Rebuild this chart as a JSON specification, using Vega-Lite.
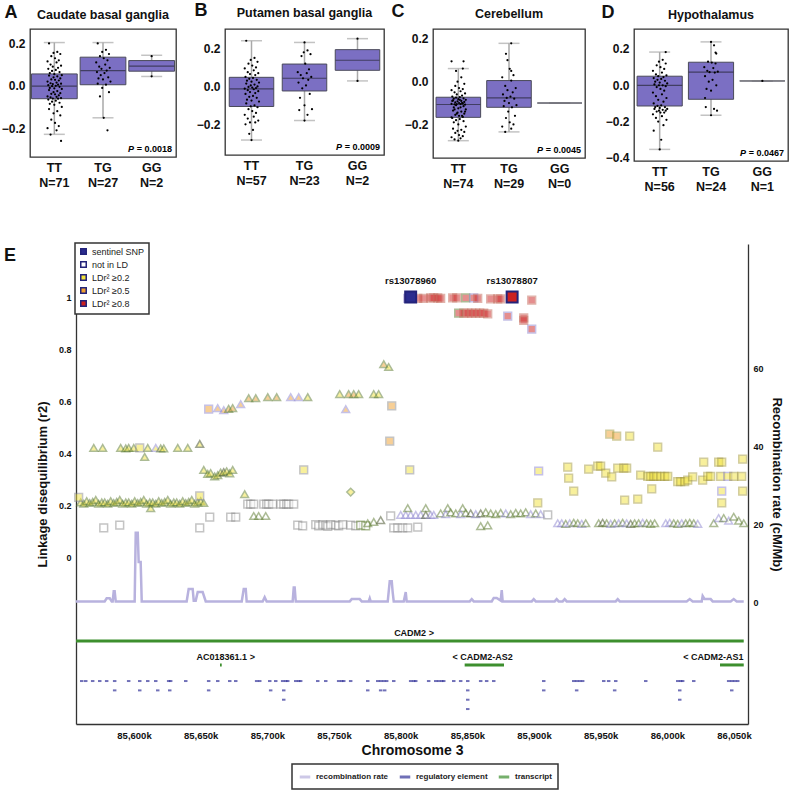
{
"$schema": "https://vega.github.io/schema/vega-lite/v6.json",
"background": "white",
"padding": {"left": 0, "top": 0, "right": 0, "bottom": 0},
"config": {
  "font": "Liberation Sans",
  "view": {"stroke": "#333", "strokeWidth": 1.3},
  "axis": {"grid": false, "ticks": false, "domain": false, "labelFontWeight": "bold", "labelColor": "#111", "titleColor": "#111", "titleFontWeight": "bold"},
  "axisX": {"labelFontSize": 12.5, "labelPadding": 4, "labelLineHeight": 15, "labelAngle": 0},
  "axisY": {"labelFontSize": 12, "labelPadding": 5},
  "title": {"fontSize": 12.5, "fontWeight": "bold", "color": "#111", "offset": -18},
  "legend": {"strokeWidth": 1.5}
},
"datasets": {
  "boxA": [{"g":"TT","lo":-0.229,"q1":-0.061,"m":-0.002,"q3":0.056,"hi":0.204},{"g":"TG","lo":-0.151,"q1":0.005,"m":0.072,"q3":0.135,"hi":0.204},{"g":"GG","lo":0.044,"q1":0.069,"m":0.093,"q3":0.119,"hi":0.144}],
  "boxB": [{"g":"TT","lo":-0.283,"q1":-0.106,"m":-0.013,"q3":0.048,"hi":0.241},{"g":"TG","lo":-0.18,"q1":-0.024,"m":0.043,"q3":0.118,"hi":0.232},{"g":"GG","lo":0.029,"q1":0.085,"m":0.138,"q3":0.194,"hi":0.252}],
  "boxC": [{"g":"TT","lo":-0.276,"q1":-0.167,"m":-0.107,"q3":-0.073,"hi":0.061},{"g":"TG","lo":-0.235,"q1":-0.12,"m":-0.076,"q3":0.005,"hi":0.179},{"g":"GG","lo":-0.1,"q1":-0.1,"m":-0.1,"q3":-0.1,"hi":-0.1}],
  "boxD": [{"g":"TT","lo":-0.353,"q1":-0.114,"m":0.0,"q3":0.05,"hi":0.183},{"g":"TG","lo":-0.165,"q1":-0.077,"m":0.072,"q3":0.127,"hi":0.239},{"g":"GG","lo":0.024,"q1":0.024,"m":0.024,"q3":0.024,"hi":0.024}],
  "pv": [{"q":"A","t":"= 0.0018"},{"q":"B","t":"= 0.0009"},{"q":"C","t":"= 0.0045"},{"q":"D","t":"= 0.0467"}],
  "ptsA": [
    {"g":"TT","v":0.2,"j":-0.7},{"g":"TT","v":0.16,"j":0.4},{"g":"TT","v":0.155,"j":-0.1},{"g":"TT","v":0.15,"j":0.8},{"g":"TT","v":0.14,"j":-0.4},{"g":"TT","v":0.13,"j":0.1},{"g":"TT","v":0.12,"j":0.6},{"g":"TT","v":0.115,"j":-0.9},{"g":"TT","v":0.11,"j":0.3},{"g":"TT","v":0.1,"j":-0.5},
    {"g":"TT","v":0.095,"j":0.9},{"g":"TT","v":0.09,"j":-0.2},{"g":"TT","v":0.085,"j":0.5},{"g":"TT","v":0.08,"j":-0.8},{"g":"TT","v":0.075,"j":0.2},{"g":"TT","v":0.07,"j":-0.3},{"g":"TT","v":0.065,"j":0.7},{"g":"TT","v":0.06,"j":-0.6},{"g":"TT","v":0.055,"j":0.0},{"g":"TT","v":0.05,"j":1.0},
    {"g":"TT","v":0.048,"j":-0.7},{"g":"TT","v":0.045,"j":0.4},{"g":"TT","v":0.04,"j":-0.1},{"g":"TT","v":0.035,"j":0.8},{"g":"TT","v":0.03,"j":-0.4},{"g":"TT","v":0.028,"j":0.1},{"g":"TT","v":0.025,"j":0.6},{"g":"TT","v":0.02,"j":-0.9},{"g":"TT","v":0.015,"j":0.3},{"g":"TT","v":0.012,"j":-0.5},
    {"g":"TT","v":0.01,"j":0.9},{"g":"TT","v":0.008,"j":-0.2},{"g":"TT","v":0.005,"j":0.5},{"g":"TT","v":0.003,"j":-0.8},{"g":"TT","v":0.0,"j":0.2},{"g":"TT","v":-0.002,"j":-0.3},{"g":"TT","v":-0.005,"j":0.7},{"g":"TT","v":-0.01,"j":-0.6},{"g":"TT","v":-0.012,"j":0.0},{"g":"TT","v":-0.015,"j":1.0},
    {"g":"TT","v":-0.02,"j":-0.7},{"g":"TT","v":-0.025,"j":0.4},{"g":"TT","v":-0.03,"j":-0.1},{"g":"TT","v":-0.035,"j":0.8},{"g":"TT","v":-0.038,"j":-0.4},{"g":"TT","v":-0.04,"j":0.1},{"g":"TT","v":-0.045,"j":0.6},{"g":"TT","v":-0.05,"j":-0.9},{"g":"TT","v":-0.052,"j":0.3},{"g":"TT","v":-0.055,"j":-0.5},
    {"g":"TT","v":-0.058,"j":0.9},{"g":"TT","v":-0.06,"j":-0.2},{"g":"TT","v":-0.061,"j":0.5},{"g":"TT","v":-0.065,"j":-0.8},{"g":"TT","v":-0.07,"j":0.2},{"g":"TT","v":-0.075,"j":-0.3},{"g":"TT","v":-0.08,"j":0.7},{"g":"TT","v":-0.085,"j":-0.6},{"g":"TT","v":-0.09,"j":0.0},{"g":"TT","v":-0.1,"j":1.0},
    {"g":"TT","v":-0.11,"j":-0.7},{"g":"TT","v":-0.12,"j":0.4},{"g":"TT","v":-0.13,"j":-0.1},{"g":"TT","v":-0.14,"j":0.8},{"g":"TT","v":-0.16,"j":-0.4},{"g":"TT","v":-0.175,"j":0.1},{"g":"TT","v":-0.19,"j":0.6},{"g":"TT","v":-0.2,"j":-0.9},{"g":"TT","v":-0.21,"j":0.3},{"g":"TT","v":-0.23,"j":-0.5},{"g":"TT","v":-0.26,"j":0.9},
    {"g":"TG","v":0.2,"j":-0.7},{"g":"TG","v":0.17,"j":0.4},{"g":"TG","v":0.16,"j":-0.1},{"g":"TG","v":0.15,"j":0.8},{"g":"TG","v":0.14,"j":-0.4},{"g":"TG","v":0.13,"j":0.1},{"g":"TG","v":0.12,"j":0.6},{"g":"TG","v":0.11,"j":-0.9},{"g":"TG","v":0.1,"j":0.3},{"g":"TG","v":0.09,"j":-0.5},
    {"g":"TG","v":0.085,"j":0.9},{"g":"TG","v":0.08,"j":-0.2},{"g":"TG","v":0.072,"j":0.5},{"g":"TG","v":0.065,"j":-0.8},{"g":"TG","v":0.06,"j":0.2},{"g":"TG","v":0.05,"j":-0.3},{"g":"TG","v":0.04,"j":0.7},{"g":"TG","v":0.035,"j":-0.6},{"g":"TG","v":0.03,"j":0.0},{"g":"TG","v":0.02,"j":1.0},
    {"g":"TG","v":0.01,"j":-0.7},{"g":"TG","v":0.005,"j":0.4},{"g":"TG","v":-0.01,"j":-0.1},{"g":"TG","v":-0.03,"j":0.8},{"g":"TG","v":-0.05,"j":-0.4},{"g":"TG","v":-0.151,"j":0.1},{"g":"TG","v":-0.21,"j":0.6},
    {"g":"GG","v":0.14,"j":0.0},{"g":"GG","v":0.045,"j":0.0}
  ],
  "ptsB": [
    {"g":"TT","v":0.241,"j":-0.7},{"g":"TT","v":0.15,"j":0.4},{"g":"TT","v":0.14,"j":-0.1},{"g":"TT","v":0.13,"j":0.8},{"g":"TT","v":0.12,"j":-0.4},{"g":"TT","v":0.11,"j":0.1},{"g":"TT","v":0.1,"j":0.6},{"g":"TT","v":0.095,"j":-0.9},{"g":"TT","v":0.085,"j":0.3},{"g":"TT","v":0.075,"j":-0.5},
    {"g":"TT","v":0.07,"j":0.9},{"g":"TT","v":0.065,"j":-0.2},{"g":"TT","v":0.06,"j":0.5},{"g":"TT","v":0.05,"j":-0.8},{"g":"TT","v":0.045,"j":0.2},{"g":"TT","v":0.04,"j":-0.3},{"g":"TT","v":0.035,"j":0.7},{"g":"TT","v":0.03,"j":-0.6},{"g":"TT","v":0.025,"j":0.0},{"g":"TT","v":0.02,"j":1.0},
    {"g":"TT","v":0.015,"j":-0.7},{"g":"TT","v":0.01,"j":0.4},{"g":"TT","v":0.005,"j":-0.1},{"g":"TT","v":0.0,"j":0.8},{"g":"TT","v":-0.003,"j":-0.4},{"g":"TT","v":-0.006,"j":0.1},{"g":"TT","v":-0.009,"j":0.6},{"g":"TT","v":-0.012,"j":-0.9},{"g":"TT","v":-0.015,"j":0.3},{"g":"TT","v":-0.02,"j":-0.5},
    {"g":"TT","v":-0.025,"j":0.9},{"g":"TT","v":-0.03,"j":-0.2},{"g":"TT","v":-0.035,"j":0.5},{"g":"TT","v":-0.04,"j":-0.8},{"g":"TT","v":-0.05,"j":0.2},{"g":"TT","v":-0.055,"j":-0.3},{"g":"TT","v":-0.06,"j":0.7},{"g":"TT","v":-0.07,"j":-0.6},{"g":"TT","v":-0.075,"j":0.0},{"g":"TT","v":-0.08,"j":1.0},
    {"g":"TT","v":-0.09,"j":-0.7},{"g":"TT","v":-0.1,"j":0.4},{"g":"TT","v":-0.105,"j":-0.1},{"g":"TT","v":-0.11,"j":0.8},{"g":"TT","v":-0.12,"j":-0.4},{"g":"TT","v":-0.13,"j":0.1},{"g":"TT","v":-0.14,"j":0.6},{"g":"TT","v":-0.15,"j":-0.9},{"g":"TT","v":-0.16,"j":0.3},{"g":"TT","v":-0.17,"j":-0.5},
    {"g":"TT","v":-0.18,"j":0.9},{"g":"TT","v":-0.19,"j":-0.2},{"g":"TT","v":-0.19,"j":0.5},{"g":"TT","v":-0.2,"j":-0.8},{"g":"TT","v":-0.23,"j":0.2},{"g":"TT","v":-0.25,"j":-0.3},{"g":"TT","v":-0.283,"j":0.0},
    {"g":"TG","v":0.232,"j":0.0},{"g":"TG","v":0.19,"j":0.4},{"g":"TG","v":0.18,"j":-0.1},{"g":"TG","v":0.17,"j":0.8},{"g":"TG","v":0.16,"j":-0.4},{"g":"TG","v":0.12,"j":0.1},{"g":"TG","v":0.09,"j":0.6},{"g":"TG","v":0.075,"j":-0.9},{"g":"TG","v":0.07,"j":0.3},{"g":"TG","v":0.06,"j":-0.5},
    {"g":"TG","v":0.05,"j":0.9},{"g":"TG","v":0.043,"j":-0.2},{"g":"TG","v":0.035,"j":0.5},{"g":"TG","v":0.02,"j":-0.8},{"g":"TG","v":0.005,"j":0.2},{"g":"TG","v":-0.01,"j":-0.3},{"g":"TG","v":-0.04,"j":0.7},{"g":"TG","v":-0.06,"j":-0.6},{"g":"TG","v":-0.1,"j":0.0},{"g":"TG","v":-0.12,"j":1.0},
    {"g":"TG","v":-0.125,"j":-0.7},{"g":"TG","v":-0.15,"j":0.4},{"g":"TG","v":-0.18,"j":0.0},
    {"g":"GG","v":0.252,"j":0.0},{"g":"GG","v":0.029,"j":0.0}
  ],
  "ptsC": [
    {"g":"TT","v":0.095,"j":-0.9},{"g":"TT","v":0.095,"j":0.7},
    {"g":"TT","v":0.061,"j":0.6},{"g":"TT","v":0.05,"j":-0.3},{"g":"TT","v":0.02,"j":0.4},{"g":"TT","v":0.0,"j":-0.1},{"g":"TT","v":-0.01,"j":0.8},{"g":"TT","v":-0.02,"j":-0.4},{"g":"TT","v":-0.03,"j":0.1},{"g":"TT","v":-0.035,"j":0.6},
    {"g":"TT","v":-0.04,"j":-0.9},{"g":"TT","v":-0.045,"j":0.3},{"g":"TT","v":-0.05,"j":-0.5},{"g":"TT","v":-0.055,"j":0.9},{"g":"TT","v":-0.06,"j":-0.2},{"g":"TT","v":-0.065,"j":0.5},{"g":"TT","v":-0.07,"j":-0.8},{"g":"TT","v":-0.072,"j":0.2},
    {"g":"TT","v":-0.075,"j":-0.3},{"g":"TT","v":-0.078,"j":0.7},{"g":"TT","v":-0.08,"j":-0.6},{"g":"TT","v":-0.082,"j":0.0},{"g":"TT","v":-0.085,"j":1.0},{"g":"TT","v":-0.088,"j":-0.7},{"g":"TT","v":-0.09,"j":0.4},{"g":"TT","v":-0.092,"j":-0.1},{"g":"TT","v":-0.095,"j":0.8},{"g":"TT","v":-0.097,"j":-0.4},
    {"g":"TT","v":-0.1,"j":0.1},{"g":"TT","v":-0.102,"j":0.6},{"g":"TT","v":-0.104,"j":-0.9},{"g":"TT","v":-0.105,"j":0.3},{"g":"TT","v":-0.106,"j":-0.5},{"g":"TT","v":-0.107,"j":0.9},{"g":"TT","v":-0.105,"j":-0.2},{"g":"TT","v":-0.1,"j":0.5},{"g":"TT","v":-0.09,"j":-0.8},{"g":"TT","v":-0.085,"j":0.2},
    {"g":"TT","v":-0.11,"j":-0.3},{"g":"TT","v":-0.115,"j":0.7},{"g":"TT","v":-0.12,"j":-0.6},{"g":"TT","v":-0.125,"j":0.0},{"g":"TT","v":-0.13,"j":1.0},{"g":"TT","v":-0.135,"j":-0.7},{"g":"TT","v":-0.14,"j":0.4},{"g":"TT","v":-0.145,"j":-0.1},{"g":"TT","v":-0.15,"j":0.8},{"g":"TT","v":-0.155,"j":-0.4},
    {"g":"TT","v":-0.16,"j":0.1},{"g":"TT","v":-0.165,"j":0.6},{"g":"TT","v":-0.167,"j":-0.9},{"g":"TT","v":-0.12,"j":0.3},{"g":"TT","v":-0.13,"j":-0.5},{"g":"TT","v":-0.14,"j":0.9},{"g":"TT","v":-0.15,"j":-0.2},{"g":"TT","v":-0.16,"j":0.5},
    {"g":"TT","v":-0.17,"j":-0.8},{"g":"TT","v":-0.175,"j":0.2},{"g":"TT","v":-0.18,"j":-0.3},{"g":"TT","v":-0.185,"j":0.7},{"g":"TT","v":-0.19,"j":-0.6},{"g":"TT","v":-0.2,"j":0.0},{"g":"TT","v":-0.21,"j":1.0},{"g":"TT","v":-0.22,"j":-0.7},{"g":"TT","v":-0.225,"j":0.4},{"g":"TT","v":-0.23,"j":-0.1},
    {"g":"TT","v":-0.235,"j":0.8},{"g":"TT","v":-0.24,"j":-0.4},{"g":"TT","v":-0.25,"j":0.1},{"g":"TT","v":-0.255,"j":0.6},{"g":"TT","v":-0.26,"j":-0.9},{"g":"TT","v":-0.265,"j":0.3},{"g":"TT","v":-0.27,"j":-0.5},{"g":"TT","v":-0.276,"j":0.0},
    {"g":"TG","v":0.179,"j":0.3},{"g":"TG","v":0.13,"j":-0.4},{"g":"TG","v":0.1,"j":-0.2},{"g":"TG","v":0.06,"j":0.1},{"g":"TG","v":0.05,"j":0.3},{"g":"TG","v":0.03,"j":0.6},{"g":"TG","v":0.02,"j":-0.9},{"g":"TG","v":0.005,"j":0.3},{"g":"TG","v":-0.02,"j":-0.5},{"g":"TG","v":-0.03,"j":0.9},
    {"g":"TG","v":-0.04,"j":-0.2},{"g":"TG","v":-0.05,"j":0.5},{"g":"TG","v":-0.06,"j":-0.8},{"g":"TG","v":-0.07,"j":0.2},{"g":"TG","v":-0.076,"j":-0.3},{"g":"TG","v":-0.08,"j":0.7},{"g":"TG","v":-0.09,"j":-0.6},{"g":"TG","v":-0.1,"j":0.0},{"g":"TG","v":-0.11,"j":1.0},{"g":"TG","v":-0.115,"j":-0.7},
    {"g":"TG","v":-0.12,"j":0.4},{"g":"TG","v":-0.14,"j":-0.1},{"g":"TG","v":-0.16,"j":0.8},{"g":"TG","v":-0.17,"j":-0.4},{"g":"TG","v":-0.19,"j":0.1},{"g":"TG","v":-0.2,"j":0.6},{"g":"TG","v":-0.21,"j":-0.9},{"g":"TG","v":-0.22,"j":0.3},{"g":"TG","v":-0.235,"j":-0.5}
  ],
  "ptsD": [
    {"g":"TT","v":0.183,"j":0.8},{"g":"TT","v":0.14,"j":0.4},{"g":"TT","v":0.13,"j":-0.1},{"g":"TT","v":0.12,"j":0.8},{"g":"TT","v":0.11,"j":-0.4},{"g":"TT","v":0.1,"j":0.1},{"g":"TT","v":0.09,"j":0.6},{"g":"TT","v":0.08,"j":-0.9},{"g":"TT","v":0.07,"j":0.3},{"g":"TT","v":0.06,"j":-0.5},{"g":"TT","v":0.055,"j":0.9},
    {"g":"TT","v":0.05,"j":-0.2},{"g":"TT","v":0.045,"j":0.5},{"g":"TT","v":0.04,"j":-0.8},{"g":"TT","v":0.035,"j":0.2},{"g":"TT","v":0.03,"j":-0.3},{"g":"TT","v":0.025,"j":0.7},{"g":"TT","v":0.02,"j":-0.6},{"g":"TT","v":0.015,"j":0.0},{"g":"TT","v":0.01,"j":1.0},{"g":"TT","v":0.005,"j":-0.7},{"g":"TT","v":0.0,"j":0.4},{"g":"TT","v":0.0,"j":-0.1},
    {"g":"TT","v":-0.005,"j":0.8},{"g":"TT","v":-0.01,"j":-0.4},{"g":"TT","v":-0.02,"j":0.1},{"g":"TT","v":-0.03,"j":0.6},{"g":"TT","v":-0.04,"j":-0.9},{"g":"TT","v":-0.05,"j":0.3},{"g":"TT","v":-0.06,"j":-0.5},{"g":"TT","v":-0.07,"j":0.9},{"g":"TT","v":-0.08,"j":-0.2},{"g":"TT","v":-0.09,"j":0.5},{"g":"TT","v":-0.1,"j":-0.8},{"g":"TT","v":-0.11,"j":0.2},{"g":"TT","v":-0.114,"j":-0.3},{"g":"TT","v":-0.12,"j":0.7},
    {"g":"TT","v":-0.12,"j":-0.6},{"g":"TT","v":-0.125,"j":0.0},{"g":"TT","v":-0.13,"j":1.0},{"g":"TT","v":-0.13,"j":-0.7},{"g":"TT","v":-0.135,"j":0.4},{"g":"TT","v":-0.14,"j":-0.1},{"g":"TT","v":-0.14,"j":0.8},{"g":"TT","v":-0.145,"j":-0.4},{"g":"TT","v":-0.15,"j":0.1},{"g":"TT","v":-0.15,"j":0.6},
    {"g":"TT","v":-0.16,"j":-0.9},{"g":"TT","v":-0.17,"j":0.3},{"g":"TT","v":-0.18,"j":-0.5},{"g":"TT","v":-0.19,"j":0.9},{"g":"TT","v":-0.2,"j":-0.2},{"g":"TT","v":-0.22,"j":0.5},{"g":"TT","v":-0.25,"j":-0.8},{"g":"TT","v":-0.3,"j":0.2},{"g":"TT","v":-0.353,"j":0.0},
    {"g":"TG","v":0.239,"j":0.0},{"g":"TG","v":0.22,"j":0.4},{"g":"TG","v":0.18,"j":0.6},{"g":"TG","v":0.175,"j":0.7},{"g":"TG","v":0.13,"j":-0.4},{"g":"TG","v":0.125,"j":0.1},{"g":"TG","v":0.12,"j":0.6},{"g":"TG","v":0.1,"j":-0.9},{"g":"TG","v":0.095,"j":0.3},{"g":"TG","v":0.08,"j":-0.5},
    {"g":"TG","v":0.075,"j":0.9},{"g":"TG","v":0.072,"j":-0.2},{"g":"TG","v":0.07,"j":0.5},{"g":"TG","v":0.05,"j":-0.8},{"g":"TG","v":0.03,"j":0.2},{"g":"TG","v":0.02,"j":-0.3},{"g":"TG","v":0.0,"j":0.7},{"g":"TG","v":-0.02,"j":-0.6},{"g":"TG","v":-0.03,"j":0.0},{"g":"TG","v":-0.07,"j":-0.8},
    {"g":"TG","v":-0.12,"j":-0.7},{"g":"TG","v":-0.13,"j":0.4},{"g":"TG","v":-0.14,"j":0.8},{"g":"TG","v":-0.165,"j":0.0},
    {"g":"GG","v":0.024,"j":0.0}
  ],
  "ld": [
    {"p":85560,"r":0.21,"s":"t","f":"y","k":"G"},{"p":85562.3,"r":0.205,"s":"t","f":"y","k":"G"},{"p":85564.5,"r":0.215,"s":"t","f":"y","k":"G"},{"p":85566.8,"r":0.208,"s":"t","f":"y","k":"G"},{"p":85569,"r":0.212,"s":"t","f":"y","k":"G"},{"p":85571.3,"r":0.22,"s":"t","f":"y","k":"G"},{"p":85573.5,"r":0.205,"s":"t","f":"y","k":"G"},{"p":85575.8,"r":0.21,"s":"t","f":"y","k":"G"},
    {"p":85578,"r":0.21,"s":"t","f":"y","k":"G"},{"p":85580.3,"r":0.205,"s":"t","f":"y","k":"G"},{"p":85582.5,"r":0.215,"s":"t","f":"y","k":"G"},{"p":85584.8,"r":0.208,"s":"t","f":"y","k":"G"},{"p":85587,"r":0.212,"s":"t","f":"y","k":"G"},{"p":85589.3,"r":0.22,"s":"t","f":"y","k":"G"},{"p":85591.5,"r":0.205,"s":"t","f":"y","k":"G"},{"p":85593.8,"r":0.21,"s":"t","f":"y","k":"G"},
    {"p":85596,"r":0.21,"s":"t","f":"y","k":"G"},{"p":85598.3,"r":0.205,"s":"t","f":"y","k":"G"},{"p":85600.5,"r":0.215,"s":"t","f":"y","k":"G"},{"p":85602.8,"r":0.208,"s":"t","f":"y","k":"G"},{"p":85605,"r":0.212,"s":"t","f":"y","k":"G"},{"p":85607.3,"r":0.22,"s":"t","f":"y","k":"G"},{"p":85609.5,"r":0.205,"s":"t","f":"y","k":"G"},{"p":85611.8,"r":0.21,"s":"t","f":"y","k":"G"},
    {"p":85614,"r":0.21,"s":"t","f":"y","k":"G"},{"p":85616.3,"r":0.205,"s":"t","f":"y","k":"G"},{"p":85618.5,"r":0.215,"s":"t","f":"y","k":"G"},{"p":85620.8,"r":0.208,"s":"t","f":"y","k":"G"},{"p":85623,"r":0.212,"s":"t","f":"y","k":"G"},{"p":85625.3,"r":0.22,"s":"t","f":"y","k":"G"},{"p":85627.5,"r":0.205,"s":"t","f":"y","k":"G"},{"p":85629.8,"r":0.21,"s":"t","f":"y","k":"G"},
    {"p":85632,"r":0.21,"s":"t","f":"y","k":"G"},{"p":85634.3,"r":0.205,"s":"t","f":"y","k":"G"},{"p":85636.5,"r":0.215,"s":"t","f":"y","k":"G"},{"p":85638.8,"r":0.208,"s":"t","f":"y","k":"G"},{"p":85641,"r":0.212,"s":"t","f":"y","k":"G"},{"p":85643.3,"r":0.22,"s":"t","f":"y","k":"G"},{"p":85645.5,"r":0.205,"s":"t","f":"y","k":"G"},{"p":85647.8,"r":0.21,"s":"t","f":"y","k":"G"},
    {"p":85650,"r":0.215,"s":"t","f":"y","k":"G"},{"p":85652.3,"r":0.208,"s":"t","f":"y","k":"G"},
    {"p":85558.5,"r":0.23,"s":"q","f":"y","k":"g"},{"p":85649.3,"r":0.235,"s":"q","f":"y","k":"g"},{"p":85612.5,"r":0.188,"s":"t","f":"y","k":"G"},
    {"p":85569.8,"r":0.42,"s":"t","f":"y","k":"G"},{"p":85576.5,"r":0.42,"s":"t","f":"y","k":"G"},{"p":85590,"r":0.42,"s":"t","f":"y","k":"G"},{"p":85593.8,"r":0.418,"s":"t","f":"y","k":"G"},{"p":85596,"r":0.42,"s":"t","f":"y","k":"G"},{"p":85599.8,"r":0.42,"s":"t","f":"y","k":"G"},{"p":85610.3,"r":0.42,"s":"t","f":"y","k":"G"},
    {"p":85616.3,"r":0.42,"s":"t","f":"y","k":"p"},{"p":85620,"r":0.418,"s":"t","f":"y","k":"G"},{"p":85622.3,"r":0.418,"s":"t","f":"y","k":"G"},{"p":85632.8,"r":0.42,"s":"t","f":"y","k":"G"},{"p":85640.3,"r":0.42,"s":"t","f":"y","k":"G"},{"p":85649.3,"r":0.435,"s":"t","f":"y","k":"d"},{"p":85608,"r":0.385,"s":"t","f":"y","k":"G"},{"p":85604.3,"r":0.42,"s":"q","f":"y","k":"g"},
    {"p":85652.3,"r":0.335,"s":"t","f":"y","k":"G"},{"p":85655.3,"r":0.32,"s":"t","f":"y","k":"G"},{"p":85657.5,"r":0.323,"s":"t","f":"y","k":"G"},{"p":85660.5,"r":0.31,"s":"t","f":"y","k":"G"},{"p":85662.8,"r":0.315,"s":"t","f":"y","k":"G"},{"p":85665,"r":0.325,"s":"t","f":"y","k":"G"},{"p":85667.3,"r":0.327,"s":"t","f":"y","k":"d"},{"p":85669.5,"r":0.33,"s":"t","f":"y","k":"G"},{"p":85671.8,"r":0.322,"s":"t","f":"y","k":"G"},{"p":85674,"r":0.335,"s":"t","f":"y","k":"G"},
    {"p":85656,"r":0.569,"s":"q","f":"o","k":"p"},{"p":85662.8,"r":0.573,"s":"t","f":"o","k":"p"},{"p":85667.3,"r":0.565,"s":"t","f":"o","k":"p"},{"p":85671,"r":0.57,"s":"t","f":"o","k":"G"},{"p":85674,"r":0.573,"s":"t","f":"o","k":"G"},{"p":85680,"r":0.588,"s":"t","f":"o","k":"p"},{"p":85686,"r":0.611,"s":"t","f":"o","k":"G"},{"p":85691.3,"r":0.611,"s":"t","f":"o","k":"G"},
    {"p":85700.3,"r":0.615,"s":"t","f":"o","k":"G"},{"p":85707,"r":0.615,"s":"t","f":"o","k":"G"},{"p":85717.5,"r":0.615,"s":"t","f":"o","k":"p"},{"p":85723.5,"r":0.615,"s":"t","f":"o","k":"p"},{"p":85730.3,"r":0.615,"s":"t","f":"y","k":"G"},{"p":85754.3,"r":0.627,"s":"t","f":"y","k":"G"},{"p":85761,"r":0.627,"s":"t","f":"o","k":"G"},{"p":85764.8,"r":0.627,"s":"t","f":"o","k":"G"},
    {"p":85768.5,"r":0.627,"s":"t","f":"y","k":"G"},{"p":85779.8,"r":0.627,"s":"t","f":"y","k":"G"},{"p":85783.5,"r":0.627,"s":"t","f":"y","k":"G"},{"p":85758.8,"r":0.569,"s":"t","f":"o","k":"p"},{"p":85787.3,"r":0.742,"s":"t","f":"o","k":"G"},{"p":85791,"r":0.731,"s":"t","f":"y","k":"G"},
    {"p":85793.3,"r":0.581,"s":"q","f":"o","k":"g"},{"p":85791.8,"r":0.446,"s":"q","f":"o","k":"g"},{"p":85727.3,"r":0.335,"s":"q","f":"y","k":"g"},{"p":85806.8,"r":0.335,"s":"q","f":"y","k":"g"},{"p":85762.5,"r":0.25,"s":"d","f":"y","k":"G"},
    {"p":85577.3,"r":0.112,"s":"q","f":"n","k":"g"},{"p":85589.3,"r":0.123,"s":"q","f":"n","k":"g"},{"p":85649.3,"r":0.112,"s":"q","f":"n","k":"g"},{"p":85656.8,"r":0.154,"s":"q","f":"n","k":"g"},{"p":85672.5,"r":0.154,"s":"q","f":"n","k":"g"},{"p":85676.3,"r":0.154,"s":"q","f":"n","k":"g"},
    {"p":85685.3,"r":0.204,"s":"q","f":"n","k":"g"},{"p":85687.5,"r":0.204,"s":"q","f":"n","k":"g"},{"p":85689.8,"r":0.204,"s":"q","f":"n","k":"g"},{"p":85697.3,"r":0.204,"s":"q","f":"n","k":"g"},{"p":85699.5,"r":0.204,"s":"q","f":"n","k":"g"},{"p":85701,"r":0.204,"s":"q","f":"n","k":"g"},
    {"p":85704,"r":0.204,"s":"q","f":"n","k":"g"},{"p":85710,"r":0.204,"s":"q","f":"n","k":"g"},{"p":85712.3,"r":0.204,"s":"q","f":"n","k":"g"},{"p":85714.5,"r":0.204,"s":"q","f":"n","k":"g"},{"p":85716,"r":0.204,"s":"q","f":"n","k":"g"},{"p":85719.8,"r":0.204,"s":"q","f":"n","k":"g"},
    {"p":85683,"r":0.242,"s":"t","f":"y","k":"G"},{"p":85689.8,"r":0.158,"s":"t","f":"n","k":"G"},{"p":85693.5,"r":0.158,"s":"t","f":"n","k":"G"},{"p":85698.8,"r":0.158,"s":"t","f":"n","k":"G"},
    {"p":85722.8,"r":0.123,"s":"q","f":"n","k":"g"},{"p":85726.5,"r":0.12,"s":"q","f":"n","k":"g"},{"p":85736.3,"r":0.125,"s":"q","f":"n","k":"g"},{"p":85738.5,"r":0.12,"s":"q","f":"n","k":"g"},{"p":85741.5,"r":0.125,"s":"q","f":"n","k":"g"},{"p":85743.8,"r":0.122,"s":"q","f":"n","k":"g"},{"p":85745.3,"r":0.118,"s":"q","f":"n","k":"g"},
    {"p":85747.5,"r":0.125,"s":"q","f":"n","k":"g"},{"p":85751.3,"r":0.123,"s":"q","f":"n","k":"g"},{"p":85753.5,"r":0.12,"s":"q","f":"n","k":"g"},{"p":85756.5,"r":0.125,"s":"q","f":"n","k":"g"},{"p":85762.5,"r":0.123,"s":"q","f":"n","k":"g"},{"p":85766.3,"r":0.12,"s":"q","f":"n","k":"g"},
    {"p":85770,"r":0.123,"s":"q","f":"n","k":"G"},{"p":85773.8,"r":0.12,"s":"q","f":"n","k":"G"},{"p":85775.3,"r":0.13,"s":"t","f":"n","k":"G"},{"p":85779.8,"r":0.135,"s":"t","f":"n","k":"G"},{"p":85785,"r":0.142,"s":"t","f":"n","k":"d"},
    {"p":85792.5,"r":0.158,"s":"q","f":"n","k":"g"},{"p":85794.8,"r":0.112,"s":"q","f":"n","k":"g"},{"p":85797.8,"r":0.112,"s":"q","f":"n","k":"g"},{"p":85801.5,"r":0.112,"s":"q","f":"n","k":"g"},{"p":85805.3,"r":0.112,"s":"q","f":"n","k":"g"},{"p":85812.8,"r":0.115,"s":"q","f":"n","k":"g"},
    {"p":85800,"r":0.162,"s":"t","f":"n","k":"p"},{"p":85803.8,"r":0.162,"s":"t","f":"n","k":"p"},{"p":85807.5,"r":0.162,"s":"t","f":"n","k":"p"},{"p":85811.3,"r":0.162,"s":"t","f":"n","k":"p"},{"p":85815,"r":0.162,"s":"t","f":"n","k":"p"},{"p":85818.8,"r":0.162,"s":"t","f":"n","k":"d"},{"p":85822.5,"r":0.162,"s":"t","f":"n","k":"p"},{"p":85824.8,"r":0.162,"s":"t","f":"n","k":"p"},
    {"p":85805.3,"r":0.188,"s":"t","f":"n","k":"G"},{"p":85818.8,"r":0.188,"s":"t","f":"n","k":"G"},{"p":85835.3,"r":0.188,"s":"t","f":"n","k":"G"},{"p":85846.5,"r":0.188,"s":"t","f":"n","k":"G"},
    {"p":85830,"r":0.168,"s":"t","f":"n","k":"G"},{"p":85833.8,"r":0.165,"s":"t","f":"n","k":"p"},{"p":85837.5,"r":0.172,"s":"t","f":"n","k":"G"},{"p":85841.3,"r":0.168,"s":"t","f":"n","k":"G"},{"p":85845,"r":0.165,"s":"t","f":"n","k":"p"},{"p":85848.8,"r":0.17,"s":"t","f":"n","k":"G"},{"p":85852.5,"r":0.168,"s":"t","f":"n","k":"d"},
    {"p":85856.3,"r":0.165,"s":"t","f":"n","k":"p"},{"p":85860,"r":0.168,"s":"t","f":"n","k":"d"},{"p":85863.8,"r":0.172,"s":"t","f":"n","k":"G"},{"p":85867.5,"r":0.168,"s":"t","f":"n","k":"G"},{"p":85871.3,"r":0.165,"s":"t","f":"n","k":"G"},{"p":85875,"r":0.17,"s":"t","f":"n","k":"G"},{"p":85878.8,"r":0.168,"s":"t","f":"n","k":"p"},
    {"p":85882.5,"r":0.165,"s":"t","f":"n","k":"G"},{"p":85886.3,"r":0.17,"s":"t","f":"n","k":"G"},{"p":85890,"r":0.168,"s":"t","f":"n","k":"G"},{"p":85893.8,"r":0.172,"s":"t","f":"n","k":"G"},{"p":85897.5,"r":0.165,"s":"t","f":"n","k":"p"},{"p":85901.3,"r":0.168,"s":"t","f":"n","k":"G"},{"p":85905,"r":0.165,"s":"t","f":"n","k":"p"},
    {"p":85860,"r":0.119,"s":"t","f":"n","k":"G"},{"p":85865.3,"r":0.122,"s":"t","f":"n","k":"G"},
    {"p":85910.3,"r":0.162,"s":"q","f":"n","k":"g"},{"p":85902.8,"r":0.208,"s":"q","f":"y","k":"y"},{"p":85903.5,"r":0.331,"s":"q","f":"y","k":"p"},
    {"p":85917.8,"r":0.13,"s":"t","f":"n","k":"p"},{"p":85920.8,"r":0.13,"s":"t","f":"n","k":"p"},{"p":85923.8,"r":0.128,"s":"t","f":"n","k":"G"},{"p":85926.8,"r":0.13,"s":"t","f":"n","k":"p"},{"p":85929.8,"r":0.132,"s":"t","f":"n","k":"G"},{"p":85932.8,"r":0.13,"s":"t","f":"n","k":"G"},{"p":85935.8,"r":0.128,"s":"t","f":"n","k":"p"},{"p":85938.8,"r":0.13,"s":"t","f":"n","k":"G"},
    {"p":85948.5,"r":0.13,"s":"t","f":"n","k":"G"},{"p":85951.5,"r":0.132,"s":"t","f":"n","k":"d"},{"p":85954.5,"r":0.13,"s":"t","f":"n","k":"G"},{"p":85957.5,"r":0.128,"s":"t","f":"n","k":"p"},{"p":85960.5,"r":0.13,"s":"t","f":"n","k":"G"},{"p":85963.5,"r":0.13,"s":"t","f":"n","k":"p"},{"p":85966.5,"r":0.132,"s":"t","f":"n","k":"G"},{"p":85969.5,"r":0.13,"s":"t","f":"n","k":"p"},
    {"p":85972.5,"r":0.128,"s":"t","f":"n","k":"d"},{"p":85975.5,"r":0.13,"s":"t","f":"n","k":"G"},{"p":85978.5,"r":0.13,"s":"t","f":"n","k":"G"},{"p":85981.5,"r":0.132,"s":"t","f":"n","k":"p"},{"p":85984.5,"r":0.13,"s":"t","f":"n","k":"G"},{"p":85987.5,"r":0.128,"s":"t","f":"n","k":"G"},{"p":85990.5,"r":0.13,"s":"t","f":"n","k":"G"},
    {"p":85998.8,"r":0.13,"s":"t","f":"n","k":"p"},{"p":86001.8,"r":0.132,"s":"t","f":"n","k":"p"},{"p":86004.8,"r":0.13,"s":"t","f":"n","k":"G"},{"p":86007.8,"r":0.128,"s":"t","f":"n","k":"G"},{"p":86010.8,"r":0.13,"s":"t","f":"n","k":"p"},{"p":86013.8,"r":0.13,"s":"t","f":"n","k":"G"},{"p":86016.8,"r":0.132,"s":"t","f":"n","k":"G"},{"p":86019.8,"r":0.13,"s":"t","f":"n","k":"G"},{"p":86022.8,"r":0.128,"s":"t","f":"n","k":"p"},
    {"p":86034.8,"r":0.13,"s":"t","f":"n","k":"G"},{"p":86038.5,"r":0.15,"s":"t","f":"n","k":"p"},{"p":86042.3,"r":0.15,"s":"t","f":"n","k":"G"},{"p":86046,"r":0.14,"s":"t","f":"n","k":"p"},{"p":86049.8,"r":0.155,"s":"t","f":"n","k":"G"},{"p":86053.5,"r":0.14,"s":"t","f":"n","k":"G"},{"p":86057.3,"r":0.13,"s":"t","f":"n","k":"G"},
    {"p":85925.3,"r":0.346,"s":"q","f":"y","k":"y"},{"p":85926,"r":0.304,"s":"q","f":"y","k":"y"},{"p":85929.8,"r":0.254,"s":"q","f":"y","k":"y"},{"p":85941,"r":0.338,"s":"q","f":"y","k":"y"},{"p":85947.8,"r":0.35,"s":"q","f":"y","k":"y"},{"p":85950,"r":0.35,"s":"q","f":"y","k":"y"},{"p":85953.8,"r":0.323,"s":"q","f":"y","k":"y"},{"p":85958.3,"r":0.308,"s":"q","f":"y","k":"y"},
    {"p":85962.8,"r":0.342,"s":"q","f":"y","k":"y"},{"p":85967.3,"r":0.342,"s":"q","f":"y","k":"y"},{"p":85969.5,"r":0.342,"s":"q","f":"y","k":"y"},{"p":85968,"r":0.219,"s":"q","f":"y","k":"y"},{"p":85977.8,"r":0.223,"s":"q","f":"y","k":"y"},{"p":85980,"r":0.315,"s":"q","f":"y","k":"y"},{"p":85985.3,"r":0.31,"s":"q","f":"y","k":"y"},{"p":85987.5,"r":0.31,"s":"q","f":"y","k":"y"},
    {"p":85989.8,"r":0.31,"s":"q","f":"y","k":"y"},{"p":85992,"r":0.31,"s":"q","f":"y","k":"y"},{"p":85995,"r":0.31,"s":"q","f":"y","k":"y"},{"p":85998,"r":0.31,"s":"q","f":"y","k":"y"},{"p":86000.3,"r":0.31,"s":"q","f":"y","k":"y"},{"p":85988.3,"r":0.262,"s":"q","f":"y","k":"y"},{"p":86007.8,"r":0.29,"s":"q","f":"y","k":"y"},{"p":86010,"r":0.29,"s":"q","f":"y","k":"y"},
    {"p":86013,"r":0.29,"s":"q","f":"y","k":"y"},{"p":86015.3,"r":0.296,"s":"q","f":"y","k":"y"},{"p":86019,"r":0.308,"s":"q","f":"y","k":"y"},{"p":86026.5,"r":0.296,"s":"q","f":"y","k":"y"},{"p":86027.3,"r":0.365,"s":"q","f":"y","k":"y"},{"p":86030.3,"r":0.31,"s":"q","f":"y","k":"y"},{"p":86032.5,"r":0.31,"s":"q","f":"y","k":"y"},{"p":86038.5,"r":0.365,"s":"q","f":"y","k":"y"},
    {"p":86040.8,"r":0.365,"s":"q","f":"y","k":"y"},{"p":86040.8,"r":0.254,"s":"q","f":"y","k":"p"},{"p":86040.8,"r":0.208,"s":"q","f":"y","k":"y"},{"p":86040,"r":0.31,"s":"q","f":"y","k":"y"},{"p":86045.3,"r":0.31,"s":"q","f":"y","k":"p"},{"p":86049.8,"r":0.31,"s":"q","f":"y","k":"y"},{"p":86055.8,"r":0.31,"s":"q","f":"y","k":"y"},{"p":86056.5,"r":0.377,"s":"q","f":"y","k":"y"},{"p":86056.5,"r":0.254,"s":"q","f":"y","k":"y"},
    {"p":85956.8,"r":0.473,"s":"q","f":"o","k":"y"},{"p":85962,"r":0.465,"s":"q","f":"o","k":"y"},{"p":85971.8,"r":0.465,"s":"q","f":"y","k":"y"},{"p":85992.8,"r":0.423,"s":"q","f":"y","k":"y"},
    {"p":85805.3,"r":0.995,"s":"q","f":"r","k":"p"},{"p":85812.8,"r":0.995,"s":"q","f":"r","k":"r"},{"p":85817.3,"r":0.995,"s":"q","f":"r","k":"r"},{"p":85822.5,"r":0.997,"s":"q","f":"r","k":"r"},{"p":85824.8,"r":0.997,"s":"q","f":"r","k":"r"},{"p":85827.8,"r":0.997,"s":"q","f":"r","k":"r"},{"p":85830,"r":0.995,"s":"q","f":"r","k":"r"},{"p":85839,"r":0.997,"s":"q","f":"r","k":"r"},
    {"p":85842,"r":0.997,"s":"q","f":"r","k":"r"},{"p":85848.8,"r":0.997,"s":"q","f":"r","k":"G"},{"p":85854.8,"r":0.997,"s":"q","f":"r","k":"p"},{"p":85857.8,"r":0.995,"s":"q","f":"r","k":"r"},{"p":85867.5,"r":0.993,"s":"q","f":"r","k":"r"},{"p":85872.8,"r":0.993,"s":"q","f":"r","k":"r"},{"p":85875,"r":0.993,"s":"q","f":"r","k":"r"},{"p":85898.3,"r":0.988,"s":"q","f":"r","k":"r"},
    {"p":85843.5,"r":0.938,"s":"q","f":"r","k":"G"},{"p":85847.3,"r":0.938,"s":"q","f":"r","k":"r"},{"p":85850.3,"r":0.938,"s":"q","f":"r","k":"r"},{"p":85853.3,"r":0.938,"s":"q","f":"r","k":"r"},{"p":85856.3,"r":0.938,"s":"q","f":"r","k":"r"},{"p":85859.3,"r":0.938,"s":"q","f":"r","k":"r"},{"p":85862.3,"r":0.938,"s":"q","f":"r","k":"r"},{"p":85865.3,"r":0.935,"s":"q","f":"r","k":"r"},
    {"p":85880.3,"r":0.927,"s":"q","f":"r","k":"p"},{"p":85892.3,"r":0.92,"s":"q","f":"r","k":"r"},{"p":85892.3,"r":0.91,"s":"q","f":"r","k":"r"},{"p":85898.3,"r":0.877,"s":"q","f":"r","k":"p"}
  ],
  "sent": [{"p":85807.5,"r":1.0,"f":"s","lab":"rs13078960"},{"p":85883.6,"r":1.0,"f":"r","lab":"rs13078807"}],
  "recomb": [
    {"p":85556.3,"rate":0.4},{"p":85578,"rate":0.4},{"p":85579.5,"rate":1.2},{"p":85581.8,"rate":1.2},{"p":85583.3,"rate":0.4},{"p":85584,"rate":0.4},{"p":85584.8,"rate":3},{"p":85585.5,"rate":3},{"p":85586.3,"rate":0.4},
    {"p":85600.5,"rate":0.4},{"p":85601.3,"rate":18},{"p":85602.8,"rate":18},{"p":85603.5,"rate":10.5},{"p":85605,"rate":10.5},{"p":85605.8,"rate":0.4},
    {"p":85639.5,"rate":0.4},{"p":85641,"rate":3.6},{"p":85644,"rate":3.6},{"p":85644.8,"rate":0.6},{"p":85646.3,"rate":0.6},{"p":85647.8,"rate":2.8},{"p":85651.5,"rate":2.8},{"p":85653.8,"rate":0.4},
    {"p":85680.8,"rate":0.4},{"p":85682.3,"rate":3.6},{"p":85683.8,"rate":3.6},{"p":85684.5,"rate":0.4},{"p":85696.5,"rate":0.4},{"p":85698,"rate":1.5},{"p":85699.5,"rate":0.4},
    {"p":85719,"rate":0.4},{"p":85719.8,"rate":4},{"p":85720.5,"rate":4},{"p":85721.3,"rate":0.4},{"p":85761.8,"rate":0.4},{"p":85763.3,"rate":1.0},{"p":85769.3,"rate":1.0},{"p":85770.8,"rate":0.4},
    {"p":85776,"rate":0.4},{"p":85776.8,"rate":1.2},{"p":85777.5,"rate":0.4},{"p":85790.3,"rate":0.4},{"p":85791.8,"rate":5.6},{"p":85793.3,"rate":5.6},{"p":85794,"rate":2.8},{"p":85794.8,"rate":0.4},
    {"p":85802.3,"rate":0.4},{"p":85803.8,"rate":2.8},{"p":85804.5,"rate":0.4},{"p":85851.8,"rate":0.4},{"p":85853.3,"rate":1.0},{"p":85854.8,"rate":0.4},
    {"p":85868.3,"rate":0.4},{"p":85869.8,"rate":1.3},{"p":85872,"rate":1.3},{"p":85875,"rate":0.6},{"p":85875.8,"rate":3.3},{"p":85876.5,"rate":0.4},
    {"p":85898.3,"rate":0.4},{"p":85899.8,"rate":1.0},{"p":85901.3,"rate":0.4},{"p":85915.5,"rate":0.4},{"p":85917,"rate":1.0},{"p":85918.5,"rate":0.4},{"p":85921.5,"rate":0.4},{"p":85923,"rate":1.0},{"p":85924.5,"rate":0.4},
    {"p":85961.3,"rate":0.4},{"p":85962.8,"rate":1.0},{"p":85964.3,"rate":0.4},{"p":86014.5,"rate":0.4},{"p":86016.8,"rate":1.0},{"p":86019,"rate":0.4},
    {"p":86025.8,"rate":0.4},{"p":86026.5,"rate":1.8},{"p":86028,"rate":1.0},{"p":86032.5,"rate":1.0},{"p":86034,"rate":0.4},{"p":86047.5,"rate":0.4},{"p":86049.8,"rate":1.0},{"p":86052,"rate":0.4},{"p":86057.3,"rate":0.4}
  ],
  "reg": [
    {"p":85560.8,"row":1},{"p":85563.8,"row":1},{"p":85569,"row":1},{"p":85574.3,"row":1},{"p":85579.5,"row":1},{"p":85585.5,"row":1},{"p":85596,"row":1},{"p":85604.3,"row":1},{"p":85610.3,"row":1},{"p":85616.3,"row":1},
    {"p":85626,"row":1},{"p":85627.5,"row":1},{"p":85638.8,"row":1},{"p":85656,"row":1},{"p":85662.8,"row":1},{"p":85671.8,"row":1},{"p":85676.3,"row":1},{"p":85692,"row":1},{"p":85694.3,"row":1},{"p":85701.8,"row":1},
    {"p":85706.3,"row":1},{"p":85711.5,"row":1},{"p":85713.8,"row":1},{"p":85715.3,"row":1},{"p":85721.3,"row":1},{"p":85723.5,"row":1},{"p":85725,"row":1},{"p":85737.8,"row":1},{"p":85743.8,"row":1},{"p":85753.5,"row":1},
    {"p":85755.8,"row":1},{"p":85757.3,"row":1},{"p":85762.5,"row":1},{"p":85775.3,"row":1},{"p":85782.8,"row":1},{"p":85785,"row":1},{"p":85787.3,"row":1},{"p":85789.5,"row":1},{"p":85794.8,"row":1},{"p":85807.5,"row":1},
    {"p":85809.8,"row":1},{"p":85811.3,"row":1},{"p":85821,"row":1},{"p":85826.3,"row":1},{"p":85828.5,"row":1},{"p":85830.8,"row":1},{"p":85832.3,"row":1},{"p":85839.8,"row":1},{"p":85845,"row":1},{"p":85850.3,"row":1},
    {"p":85860,"row":1},{"p":85864.5,"row":1},{"p":85869.8,"row":1},{"p":85907.3,"row":1},{"p":85929.8,"row":1},{"p":85932,"row":1},{"p":85934.3,"row":1},{"p":85936.5,"row":1},{"p":85952.3,"row":1},{"p":85956,"row":1},
    {"p":85961.3,"row":1},{"p":85983.8,"row":1},{"p":86007.8,"row":1},{"p":86010,"row":1},{"p":86011.5,"row":1},{"p":86019.8,"row":1},{"p":86046,"row":1},{"p":86048.3,"row":1},{"p":86050.5,"row":1},{"p":86052.8,"row":1},
    {"p":85585.5,"row":2},{"p":85604.3,"row":2},{"p":85617.8,"row":2},{"p":85626.8,"row":2},{"p":85656,"row":2},{"p":85702.5,"row":2},{"p":85712.3,"row":2},{"p":85775.3,"row":2},{"p":85785,"row":2},{"p":85788,"row":2},
    {"p":85850.3,"row":2},{"p":85907.3,"row":2},{"p":85932,"row":2},{"p":85960.5,"row":2},{"p":86009.3,"row":2},{"p":86048.3,"row":2},
    {"p":85712.3,"row":3},{"p":85850.3,"row":3},{"p":86009.3,"row":3},{"p":85850.3,"row":4}
  ],
  "genes": [{"n":"CADM2","p":85556.5,"p2":86057.3,"t":0},{"n":"AC018361.1","p":85664.5,"p2":85665.8,"t":1},{"n":"CADM2-AS2","p":85848,"p2":85877.5,"t":1},{"n":"CADM2-AS1","p":86039.5,"p2":86057.3,"t":1}],
  "glab": [{"lab":"CADM2 >","p":85810,"t":0},{"lab":"AC018361.1 >","p":85668.8,"t":1},{"lab":"< CADM2-AS2","p":85861.5,"t":1},{"lab":"< CADM2-AS1","p":86034.5,"t":1}]
},
"vconcat": [
  {
    "hconcat": [
      {
        "width": 146, "height": 128,
        "title": {"text": "Caudate basal ganglia"},
        "encoding": {"x": {"field": "g", "type": "nominal", "scale": {"domain": ["TT","TG","GG"], "paddingInner": 0, "paddingOuter": 0}, "axis": {"title": null, "labelExpr": "[datum.value, {'TT':'N=71','TG':'N=27','GG':'N=2'}[datum.value]]"}}},
        "layer": [
          {"data": {"name": "boxA"}, "mark": {"type": "rule", "color": "#a9a9a9", "strokeWidth": 1.5}, "encoding": {"y": {"field": "lo", "type": "quantitative", "scale": {"domain": [-0.336, 0.268], "nice": false, "zero": false}, "axis": {"values": [-0.2, 0, 0.2], "format": ".1f", "title": "A", "titleX": -26, "titleY": -12, "titleAngle": 0, "titleAlign": "left", "titleBaseline": "alphabetic", "titleFontSize": 18}}, "y2": {"field": "hi"}}},
          {"data": {"name": "boxA"}, "mark": {"type": "tick", "color": "#a9a9a9", "size": 21, "thickness": 1.5}, "encoding": {"y": {"field": "lo", "type": "quantitative"}}},
          {"data": {"name": "boxA"}, "mark": {"type": "tick", "color": "#a9a9a9", "size": 21, "thickness": 1.5}, "encoding": {"y": {"field": "hi", "type": "quantitative"}}},
          {"data": {"name": "boxA"}, "mark": {"type": "bar", "fill": "#7b6fc3", "stroke": "#4a4a5a", "strokeWidth": 1, "width": {"band": 0.94}}, "encoding": {"y": {"field": "q1", "type": "quantitative"}, "y2": {"field": "q3"}}},
          {"data": {"name": "boxA"}, "mark": {"type": "tick", "color": "#2a2a3a", "size": 45, "thickness": 1.2}, "encoding": {"y": {"field": "m", "type": "quantitative"}}},
          {"data": {"name": "ptsA"}, "mark": {"type": "circle", "size": 5, "color": "#000", "opacity": 1}, "encoding": {"y": {"field": "v", "type": "quantitative"}, "xOffset": {"field": "j", "type": "quantitative", "scale": {"domain": [-1, 1], "range": [16.8, 31.8]}}}},
          {"data": {"name": "pv"}, "transform": [{"filter": "datum.q === 'A'"}], "mark": {"type": "text", "align": "right", "baseline": "bottom", "dx": -4, "dy": -3, "fontSize": 9, "fontWeight": "bold"}, "encoding": {"x": {"datum": "GG", "bandPosition": 1}, "y": {"datum": -0.336}, "text": {"field": "t"}}},
          {"data": {"name": "pv"}, "transform": [{"filter": "datum.q === 'A'"}], "mark": {"type": "text", "align": "right", "baseline": "bottom", "dx": -42, "dy": -3, "fontSize": 9, "fontWeight": "bold", "fontStyle": "italic"}, "encoding": {"x": {"datum": "GG", "bandPosition": 1}, "y": {"datum": -0.336}, "text": {"value": "P"}}}
        ],
        "resolve": {"scale": {"xOffset": "independent"}}
      },
      {
        "width": 159, "height": 126,
        "title": {"text": "Putamen basal ganglia"},
        "encoding": {"x": {"field": "g", "type": "nominal", "scale": {"domain": ["TT","TG","GG"], "paddingInner": 0, "paddingOuter": 0}, "axis": {"title": null, "labelExpr": "[datum.value, {'TT':'N=57','TG':'N=23','GG':'N=2'}[datum.value]]"}}},
        "layer": [
          {"data": {"name": "boxB"}, "mark": {"type": "rule", "color": "#a9a9a9", "strokeWidth": 1.5}, "encoding": {"y": {"field": "lo", "type": "quantitative", "scale": {"domain": [-0.362, 0.303], "nice": false, "zero": false}, "axis": {"values": [-0.2, 0, 0.2], "format": ".1f", "title": "B", "titleX": -31, "titleY": -14, "titleAngle": 0, "titleAlign": "left", "titleBaseline": "alphabetic", "titleFontSize": 18}}, "y2": {"field": "hi"}}},
          {"data": {"name": "boxB"}, "mark": {"type": "tick", "color": "#a9a9a9", "size": 21, "thickness": 1.5}, "encoding": {"y": {"field": "lo", "type": "quantitative"}}},
          {"data": {"name": "boxB"}, "mark": {"type": "tick", "color": "#a9a9a9", "size": 21, "thickness": 1.5}, "encoding": {"y": {"field": "hi", "type": "quantitative"}}},
          {"data": {"name": "boxB"}, "mark": {"type": "bar", "fill": "#7b6fc3", "stroke": "#4a4a5a", "strokeWidth": 1, "width": {"band": 0.84}}, "encoding": {"y": {"field": "q1", "type": "quantitative"}, "y2": {"field": "q3"}}},
          {"data": {"name": "boxB"}, "mark": {"type": "tick", "color": "#2a2a3a", "size": 44, "thickness": 1.2}, "encoding": {"y": {"field": "m", "type": "quantitative"}}},
          {"data": {"name": "ptsB"}, "mark": {"type": "circle", "size": 5, "color": "#000", "opacity": 1}, "encoding": {"y": {"field": "v", "type": "quantitative"}, "xOffset": {"field": "j", "type": "quantitative", "scale": {"domain": [-1, 1], "range": [19, 34]}}}},
          {"data": {"name": "pv"}, "transform": [{"filter": "datum.q === 'B'"}], "mark": {"type": "text", "align": "right", "baseline": "bottom", "dx": -4, "dy": -3, "fontSize": 9, "fontWeight": "bold"}, "encoding": {"x": {"datum": "GG", "bandPosition": 1}, "y": {"datum": -0.362}, "text": {"field": "t"}}},
          {"data": {"name": "pv"}, "transform": [{"filter": "datum.q === 'B'"}], "mark": {"type": "text", "align": "right", "baseline": "bottom", "dx": -42, "dy": -3, "fontSize": 9, "fontWeight": "bold", "fontStyle": "italic"}, "encoding": {"x": {"datum": "GG", "bandPosition": 1}, "y": {"datum": -0.362}, "text": {"value": "P"}}}
        ],
        "resolve": {"scale": {"xOffset": "independent"}}
      },
      {
        "width": 152, "height": 129,
        "title": {"text": "Cerebellum"},
        "encoding": {"x": {"field": "g", "type": "nominal", "scale": {"domain": ["TT","TG","GG"], "paddingInner": 0, "paddingOuter": 0}, "axis": {"title": null, "labelExpr": "[datum.value, {'TT':'N=74','TG':'N=29','GG':'N=0'}[datum.value]]"}}},
        "layer": [
          {"data": {"name": "boxC"}, "mark": {"type": "rule", "color": "#a9a9a9", "strokeWidth": 1.5}, "encoding": {"y": {"field": "lo", "type": "quantitative", "scale": {"domain": [-0.357, 0.246], "nice": false, "zero": false}, "axis": {"values": [-0.2, 0, 0.2], "format": ".1f", "title": "C", "titleX": -42, "titleY": -13, "titleAngle": 0, "titleAlign": "left", "titleBaseline": "alphabetic", "titleFontSize": 18}}, "y2": {"field": "hi"}}},
          {"data": {"name": "boxC"}, "mark": {"type": "tick", "color": "#a9a9a9", "size": 21, "thickness": 1.5}, "encoding": {"y": {"field": "lo", "type": "quantitative"}}},
          {"data": {"name": "boxC"}, "mark": {"type": "tick", "color": "#a9a9a9", "size": 21, "thickness": 1.5}, "encoding": {"y": {"field": "hi", "type": "quantitative"}}},
          {"data": {"name": "boxC"}, "mark": {"type": "bar", "fill": "#7b6fc3", "stroke": "#4a4a5a", "strokeWidth": 1, "width": {"band": 0.88}}, "encoding": {"y": {"field": "q1", "type": "quantitative"}, "y2": {"field": "q3"}}},
          {"data": {"name": "boxC"}, "mark": {"type": "tick", "size": 44, "thickness": 1.2}, "encoding": {"y": {"field": "m", "type": "quantitative"}, "color": {"condition": {"test": "datum.g === 'GG'", "value": "#9a9a9a"}, "value": "#2a2a3a"}}},
          {"data": {"name": "ptsC"}, "mark": {"type": "circle", "size": 5, "color": "#000", "opacity": 1}, "encoding": {"y": {"field": "v", "type": "quantitative"}, "xOffset": {"field": "j", "type": "quantitative", "scale": {"domain": [-1, 1], "range": [17.8, 32.8]}}}},
          {"data": {"name": "pv"}, "transform": [{"filter": "datum.q === 'C'"}], "mark": {"type": "text", "align": "right", "baseline": "bottom", "dx": -4, "dy": -3, "fontSize": 9, "fontWeight": "bold"}, "encoding": {"x": {"datum": "GG", "bandPosition": 1}, "y": {"datum": -0.357}, "text": {"field": "t"}}},
          {"data": {"name": "pv"}, "transform": [{"filter": "datum.q === 'C'"}], "mark": {"type": "text", "align": "right", "baseline": "bottom", "dx": -42, "dy": -3, "fontSize": 9, "fontWeight": "bold", "fontStyle": "italic"}, "encoding": {"x": {"datum": "GG", "bandPosition": 1}, "y": {"datum": -0.357}, "text": {"value": "P"}}}
        ],
        "resolve": {"scale": {"xOffset": "independent"}}
      },
      {
        "width": 154, "height": 132,
        "title": {"text": "Hypothalamus"},
        "encoding": {"x": {"field": "g", "type": "nominal", "scale": {"domain": ["TT","TG","GG"], "paddingInner": 0, "paddingOuter": 0}, "axis": {"title": null, "labelExpr": "[datum.value, {'TT':'N=56','TG':'N=24','GG':'N=1'}[datum.value]]"}}},
        "layer": [
          {"data": {"name": "boxD"}, "mark": {"type": "rule", "color": "#a9a9a9", "strokeWidth": 1.5}, "encoding": {"y": {"field": "lo", "type": "quantitative", "scale": {"domain": [-0.417, 0.31], "nice": false, "zero": false}, "axis": {"values": [-0.4, -0.2, 0, 0.2], "format": ".1f", "title": "D", "titleX": -33, "titleY": -12, "titleAngle": 0, "titleAlign": "left", "titleBaseline": "alphabetic", "titleFontSize": 18}}, "y2": {"field": "hi"}}},
          {"data": {"name": "boxD"}, "mark": {"type": "tick", "color": "#a9a9a9", "size": 21, "thickness": 1.5}, "encoding": {"y": {"field": "lo", "type": "quantitative"}}},
          {"data": {"name": "boxD"}, "mark": {"type": "tick", "color": "#a9a9a9", "size": 21, "thickness": 1.5}, "encoding": {"y": {"field": "hi", "type": "quantitative"}}},
          {"data": {"name": "boxD"}, "mark": {"type": "bar", "fill": "#7b6fc3", "stroke": "#4a4a5a", "strokeWidth": 1, "width": {"band": 0.88}}, "encoding": {"y": {"field": "q1", "type": "quantitative"}, "y2": {"field": "q3"}}},
          {"data": {"name": "boxD"}, "mark": {"type": "tick", "size": 45, "thickness": 1.2}, "encoding": {"y": {"field": "m", "type": "quantitative"}, "color": {"condition": {"test": "datum.g === 'GG'", "value": "#9a9a9a"}, "value": "#2a2a3a"}}},
          {"data": {"name": "ptsD"}, "mark": {"type": "circle", "size": 5, "color": "#000", "opacity": 1}, "encoding": {"y": {"field": "v", "type": "quantitative"}, "xOffset": {"field": "j", "type": "quantitative", "scale": {"domain": [-1, 1], "range": [18.2, 33.2]}}}},
          {"data": {"name": "pv"}, "transform": [{"filter": "datum.q === 'D'"}], "mark": {"type": "text", "align": "right", "baseline": "bottom", "dx": -4, "dy": -3, "fontSize": 9, "fontWeight": "bold"}, "encoding": {"x": {"datum": "GG", "bandPosition": 1}, "y": {"datum": -0.417}, "text": {"field": "t"}}},
          {"data": {"name": "pv"}, "transform": [{"filter": "datum.q === 'D'"}], "mark": {"type": "text", "align": "right", "baseline": "bottom", "dx": -42, "dy": -3, "fontSize": 9, "fontWeight": "bold", "fontStyle": "italic"}, "encoding": {"x": {"datum": "GG", "bandPosition": 1}, "y": {"datum": -0.417}, "text": {"value": "P"}}}
        ],
        "resolve": {"scale": {"xOffset": "independent"}}
      }
    ],
    "spacing": 49,
    "bounds": "flush"
  },
  {
    "width": 718, "height": 480,
    "view": {"stroke": null},
    "title": {"text": "E", "anchor": "start", "frame": "group", "dx": -26, "offset": -21, "fontSize": 18},
    "encoding": {"x": {"field": "p", "type": "quantitative", "scale": {"domain": [85556.5, 86060.5], "range": [46, 718], "nice": false, "zero": false}, "axis": {"values": [85600,85650,85700,85750,85800,85850,85900,85950,86000,86050], "labelExpr": "format(datum.value, ',') + 'k'", "title": "Chromosome 3", "domain": true, "domainColor": "#333", "domainWidth": 1.3, "labelFontSize": 9.5, "labelPadding": 6, "labelLineHeight": 10, "titleFontSize": 14, "titlePadding": 4}}},
    "layer": [
      {
        "layer": [
          {"data": {"name": "ld"}, "mark": {"type": "point", "opacity": 0.5, "strokeWidth": 1.5, "size": 60},
           "encoding": {
             "y": {"field": "r", "type": "quantitative", "scale": {"domain": [-0.642, 1.204], "nice": false, "zero": false}, "axis": {"values": [0, 0.2, 0.4, 0.6, 0.8, 1], "labelExpr": "format(datum.value, '~g')", "title": "Linkage disequilibrium (r2)", "offset": -46, "domain": true, "domainColor": "#333", "domainWidth": 1.3, "labelFontSize": 9, "labelPadding": 5, "titleFontSize": 13, "titlePadding": 9}},
             "shape": {"field": "s", "type": "nominal", "scale": {"domain": ["q", "t", "d"], "range": ["square", "triangle-up", "diamond"]}, "legend": null},
             "fill": {"field": "f", "type": "nominal", "scale": {"domain": ["s", "n", "y", "o", "r"], "range": ["#2b2c8f", "#ffffff", "#f2e33b", "#f0a030", "#cc2020"]},
                      "legend": {"orient": "none", "legendX": 45, "legendY": 214, "title": null, "symbolType": "square", "symbolSize": 30, "symbolStrokeColor": "#222", "symbolStrokeWidth": 1.5, "symbolOpacity": 1, "labelFontSize": 9, "labelFontWeight": "normal", "labelColor": "#222", "labelExpr": "{'s':'sentinel SNP','n':'not in LD','y':'LDr² ≥0.2','o':'LDr² ≥0.5','r':'LDr² ≥0.8'}[datum.label]", "strokeColor": "#333", "fillColor": "white", "padding": 4, "rowPadding": 0}},
             "stroke": {"field": "k", "type": "nominal", "scale": {"domain": ["g", "G", "p", "r", "y", "d", "b"], "range": ["#8a8a8a", "#5b7a2e", "#8c84d0", "#c46a5a", "#a59a3c", "#3d4a20", "#22227a"]}, "legend": null}
           }},
          {"data": {"name": "sent"}, "mark": {"type": "point", "shape": "square", "size": 120, "strokeWidth": 2, "stroke": "#23237a", "opacity": 1, "filled": true},
           "encoding": {"y": {"field": "r", "type": "quantitative"}, "fill": {"field": "f", "type": "nominal"}}},
          {"data": {"name": "sent"}, "mark": {"type": "text", "dy": -16, "fontSize": 9.5, "fontWeight": "bold", "color": "#111"},
           "encoding": {"y": {"field": "r", "type": "quantitative"}, "text": {"field": "lab"}}}
        ]
      },
      {"data": {"name": "recomb"}, "mark": {"type": "line", "strokeWidth": 2.5},
       "encoding": {
         "y": {"field": "rate", "type": "quantitative", "scale": {"domain": [-31.03, 92.05], "nice": false, "zero": false}, "axis": {"orient": "right", "values": [0, 20, 40, 60], "title": "Recombination rate (cM/Mb)", "domain": true, "domainColor": "#333", "domainWidth": 1.3, "labelFontSize": 9, "labelPadding": 5, "titleFontSize": 13, "titlePadding": 6}},
         "color": {"datum": "recombination rate", "scale": {"domain": ["recombination rate", "regulatory element", "transcript"], "range": ["#b8b2de", "#35359a", "#3d8f2e"]},
                   "legend": {"orient": "none", "legendX": 262, "legendY": 735, "direction": "horizontal", "title": null, "symbolType": "stroke", "symbolStrokeWidth": 3, "symbolSize": 110, "labelFontSize": 8, "labelFontWeight": "bold", "labelColor": "#222", "strokeColor": "#333", "fillColor": "white", "padding": 6, "columnPadding": 4}}
       }},
      {"data": {"name": "reg"}, "mark": {"type": "tick", "orient": "horizontal", "size": 3.5, "thickness": 2},
       "encoding": {"y": {"field": "row", "type": "quantitative", "scale": {"domain": [-45.8, 5.6], "reverse": true, "nice": false, "zero": false}, "axis": null}, "color": {"datum": "regulatory element"}}},
      {
        "layer": [
          {"data": {"name": "genes"}, "mark": {"type": "rule", "strokeWidth": 3},
           "encoding": {"x2": {"field": "p2"}, "y": {"field": "t", "type": "quantitative", "scale": {"domain": [-16.54, 3.46], "reverse": true, "nice": false, "zero": false}, "axis": null}, "color": {"datum": "transcript"}}},
          {"data": {"name": "glab"}, "mark": {"type": "text", "dy": -8, "fontSize": 9, "fontWeight": "bold", "color": "#111"},
           "encoding": {"y": {"field": "t", "type": "quantitative"}, "text": {"field": "lab"}}}
        ]
      }
    ],
    "resolve": {"scale": {"y": "independent"}}
  }
],
"spacing": 50
}
